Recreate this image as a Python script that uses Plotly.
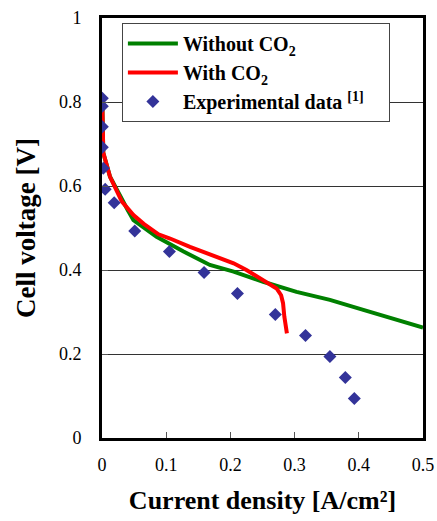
import plotly.graph_objects as go

# Data
wo_x = [0.0005, 0.002, 0.0125, 0.023, 0.04, 0.049, 0.085, 0.127, 0.168, 0.205, 0.251, 0.303, 0.355, 0.407, 0.5]
wo_y = [0.80, 0.679, 0.622, 0.590, 0.543, 0.519, 0.479, 0.444, 0.412, 0.396, 0.372, 0.348, 0.329, 0.305, 0.263]

w_x = [0.0005, 0.002, 0.0125, 0.023, 0.031, 0.049, 0.065, 0.088, 0.106, 0.137, 0.173, 0.205, 0.225, 0.251, 0.272, 0.279, 0.282, 0.284, 0.288]
w_y = [0.80, 0.679, 0.622, 0.590, 0.563, 0.531, 0.510, 0.485, 0.475, 0.455, 0.433, 0.416, 0.400, 0.376, 0.356, 0.340, 0.321, 0.289, 0.249]

exp_x = [0.0005, 0.0005, 0.0005, 0.0005, 0.002, 0.005, 0.019, 0.051, 0.105, 0.159, 0.211, 0.270, 0.317, 0.355, 0.379, 0.393]
exp_y = [0.809, 0.790, 0.741, 0.692, 0.642, 0.592, 0.560, 0.493, 0.444, 0.394, 0.344, 0.294, 0.244, 0.194, 0.144, 0.094]

x_ticks = [0, 0.1, 0.2, 0.3, 0.4, 0.5]
y_ticks = [0, 0.2, 0.4, 0.6, 0.8, 1]

serif = "Liberation Serif"

fig = go.Figure()
fig.add_trace(go.Scatter(x=wo_x, y=wo_y, mode="lines", name="Without CO<sub>2</sub>",
                         line=dict(color="#008000", width=4)))
fig.add_trace(go.Scatter(x=w_x, y=w_y, mode="lines", name="With CO<sub>2</sub>",
                         line=dict(color="#ff0000", width=4)))
fig.add_trace(go.Scatter(x=exp_x, y=exp_y, mode="markers",
                         name="Experimental data <sup>[1]</sup>&nbsp;&nbsp;&nbsp;&nbsp;",
                         marker=dict(symbol="diamond", color="#333399", size=10)))

fig.update_layout(
    width=437, height=521,
    margin=dict(l=102, r=14, t=18, b=83),
    paper_bgcolor="white", plot_bgcolor="white",
    font=dict(family=serif, color="black", size=18),
    showlegend=True,
    legend=dict(x=0.062, y=0.988, xanchor="left", yanchor="top",
                bgcolor="white", bordercolor="#444", borderwidth=1,
                font=dict(family=serif, size=20, color="black", weight="bold"),
                tracegroupgap=0, itemwidth=50),
    xaxis=dict(range=[0, 0.5], tickvals=x_ticks, ticktext=[f"{v:g}" for v in x_ticks],
               showgrid=False, zeroline=False, automargin=False,
               showline=True, linecolor="black", linewidth=3, mirror=True,
               ticks="inside", ticklen=6, tickcolor="#555", tickwidth=1,
               tickfont=dict(family=serif, size=18), ticklabelstandoff=8,
               title=dict(text="Current density [A/cm²]", font=dict(family=serif, size=26, weight="bold"), standoff=18)),
    yaxis=dict(range=[0, 1], tickvals=y_ticks, ticktext=[f"{v:g}" for v in y_ticks],
               showgrid=True, gridcolor="#333", gridwidth=1, zeroline=False, automargin=False,
               showline=True, linecolor="black", linewidth=3, mirror=True,
               ticks="inside", ticklen=6, tickcolor="#555", tickwidth=1,
               tickfont=dict(family=serif, size=18), ticklabelstandoff=14,
               title=dict(text="Cell voltage [V]", font=dict(family=serif, size=27, weight="bold"), standoff=16)),
)

fig.write_html("out.html")
